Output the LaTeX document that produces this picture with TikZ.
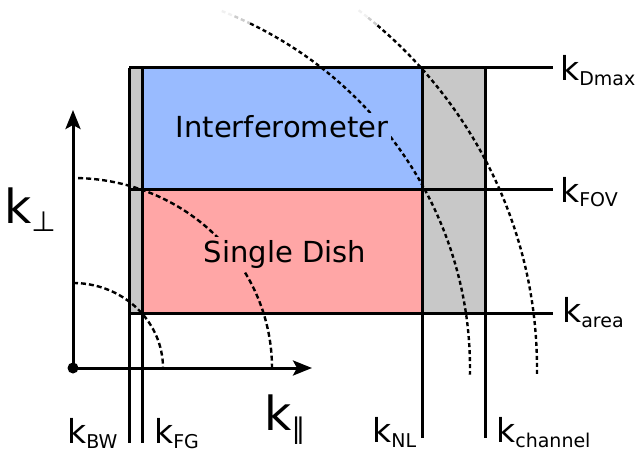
\documentclass[tikz,border=0pt]{standalone}
\usepackage{fontspec}
\setmainfont{DejaVu Sans}
\usetikzlibrary{arrows.meta}
\definecolor{ifblue}{RGB}{153,187,255}
\definecolor{sdred}{RGB}{255,166,166}
\definecolor{fggrey}{RGB}{200,200,200}
\newcommand\klab[1]{{\fontsize{33}{33}\selectfont k}\raisebox{-5pt}{\fontsize{19}{19}\selectfont #1}}
\newcommand\kbig[1]{{\fontsize{47}{47}\selectfont k}\raisebox{-8pt}{\fontsize{28}{28}\selectfont #1}}
\begin{document}
\begin{tikzpicture}[x=1pt,y=-1pt,
  solidline/.style={line width=3pt},
  arcline/.style={line width=2.4pt},
  axisline/.style={line width=3pt,-{Stealth[length=19pt,width=15pt,inset=4pt]}},
  klabel/.style={anchor=base west,inner sep=0pt},
  regiontext/.style={anchor=base,inner sep=3pt,font=\fontsize{29}{29}\selectfont}]
\useasboundingbox (0,0) rectangle (641,452);
% key coordinates
\coordinate (O) at (73,368);
\coordinate (BWt) at (129,68);  \coordinate (BWb) at (129,443);
\coordinate (FGt) at (142,68);  \coordinate (FGb) at (142,443);
\coordinate (NLt) at (422,68);  \coordinate (NLb) at (422,438);
\coordinate (CHt) at (485,68);  \coordinate (CHb) at (485,438);
\coordinate (Dl) at (129,68);   \coordinate (Dr) at (553,68);
\coordinate (Fl) at (129,189);  \coordinate (Fr) at (553,189);
\coordinate (Al) at (129,313);  \coordinate (Ar) at (553,313);
\coordinate (Ytip) at (73,110); \coordinate (Xtip) at (312,368);
% fills
\fill[fggrey] (129,68) rectangle (142,313);
\fill[fggrey] (422,68) rectangle (485,313);
\fill[ifblue] (142,68) rectangle (422,189);
\fill[sdred] (142,189) rectangle (422,313);
% dashed arcs
\draw[arcline,dash pattern=on 5pt off 3pt] plot[domain=90:0,samples=40,smooth] ({73+90*cos(\x)},{368-85*sin(\x)});
\draw[arcline,dash pattern=on 5pt off 3pt] plot[domain=88.5:0,samples=60,smooth] ({73+199*cos(\x)},{368-190*sin(\x)});
\draw[arcline,gray!12,dash pattern=on 4pt off 3pt] plot[domain=68:66,samples=5,smooth] ({73+397*cos(\x)},{368-385*sin(\x)});
\draw[arcline,gray!40,dash pattern=on 4pt off 3pt] plot[domain=66:63.5,samples=5,smooth] ({73+397*cos(\x)},{368-385*sin(\x)});
\draw[arcline,dash pattern=on 4pt off 3pt] plot[domain=63.5:-1,samples=80,smooth] ({73+397*cos(\x)},{368-385*sin(\x)});
\draw[arcline,gray!12,dash pattern=on 4pt off 3pt] plot[domain=52:50.5,samples=5,smooth] ({73+464*cos(\x)},{368-454*sin(\x)});
\draw[arcline,gray!40,dash pattern=on 4pt off 3pt] plot[domain=50.5:49,samples=5,smooth] ({73+464*cos(\x)},{368-454*sin(\x)});
\draw[arcline,dash pattern=on 4pt off 3pt] plot[domain=49:-1,samples=80,smooth] ({73+464*cos(\x)},{368-454*sin(\x)});
% region texts
\node[regiontext,fill=ifblue] (IF) at (282,138) {Interferometer};
\node[regiontext,fill=sdred] (SD) at (285,262) {Single Dish};
% solid lines
\draw[solidline] (BWt) -- (BWb);
\draw[solidline] (FGt) -- (FGb);
\draw[solidline] (NLt) -- (NLb);
\draw[solidline] (CHt) -- (CHb);
\draw[solidline] (Dl) -- (Dr);
\draw[solidline] (Fl) -- (Fr);
\draw[solidline] (Al) -- (Ar);
% axes
\draw[axisline] (O) -- (Ytip);
\draw[axisline] (O) -- (Xtip);
\fill (O) circle (5.5pt);
% labels
\node[klabel] (kD) at (560,81) {\klab{Dmax}};
\node[klabel] (kF) at (560,202) {\klab{FOV}};
\node[klabel] (kA) at (562,322) {\klab{area}};
\node[klabel] (kBW) at (67,443) {\klab{BW}};
\node[klabel] (kFG) at (154,443) {\klab{FG}};
\node[klabel] (kNL) at (372,442) {\klab{NL}};
\node[klabel] (kCH) at (496,442) {\klab{channel}};
\node[klabel] (kperp) at (4,223) {\kbig{⊥}};
\node[klabel] (kpar) at (264,430) {\kbig{∥}};
\end{tikzpicture}
\end{document}
